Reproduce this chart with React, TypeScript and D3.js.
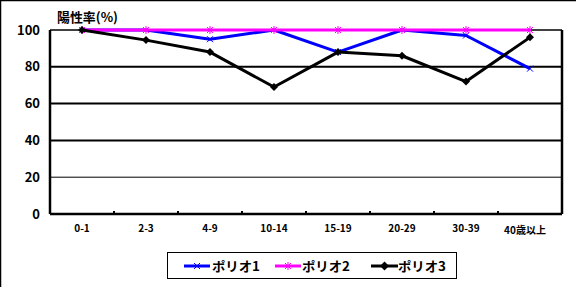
import React from "react";
import * as d3 from "d3";

const categories = ["0-1", "2-3", "4-9", "10-14", "15-19", "20-29", "30-39", "40歳以上"];
const polio1 = [100, 100, 95, 100, 88, 100, 97, 79];
const polio2 = [100, 100, 100, 100, 100, 100, 100, 100];
const polio3 = [100, 94.5, 88, 69, 88, 86, 72, 96];
const yTicks = [0, 20, 40, 60, 80, 100];
const seriesNames = ["ポリオ1", "ポリオ2", "ポリオ3"];
const yTitle = "陽性率(%)";

const W = 576, H = 287;
const L = 50, R = 562, T = 30, B = 214;
const font = "'Noto Sans CJK JP', sans-serif";

export default function App() {
  const x = d3.scaleBand<string>().domain(categories).range([L, R]);
  const y = d3.scaleLinear().domain([0, 100]).range([B, T]);
  const cx = (c: string) => (x(c) as number) + x.bandwidth() / 2;
  const line = d3.line<[number, number]>().x((d) => d[0]).y((d) => d[1]);
  const pts = (vals: number[]) => vals.map((v, i) => [cx(categories[i]), y(v)] as [number, number]);

  const series = [
    { name: seriesNames[0], vals: polio1, color: "#0000ff", marker: "x" },
    { name: seriesNames[1], vals: polio2, color: "#ff00ff", marker: "star" },
    { name: seriesNames[2], vals: polio3, color: "#000000", marker: "dot" },
  ];

  const marker = (m: string, px: number, py: number, color: string, key: string, big = false) => {
    if (m === "x") {
      return (
        <g key={key} stroke={color} strokeWidth={1}>
          <line x1={px - 3} y1={py - 3} x2={px + 3} y2={py + 3} />
          <line x1={px - 3} y1={py + 3} x2={px + 3} y2={py - 3} />
        </g>
      );
    }
    if (m === "star") {
      return (
        <g key={key} stroke={color} strokeWidth={1}>
          <line x1={px - 3} y1={py - 3} x2={px + 3} y2={py + 3} />
          <line x1={px - 3} y1={py + 3} x2={px + 3} y2={py - 3} />
          <line x1={px} y1={py - 4} x2={px} y2={py + 4} />
        </g>
      );
    }
    const r = big ? 4.5 : 4;
    return (
      <path key={key} d={`M${px},${py - r}L${px + r},${py}L${px},${py + r}L${px - r},${py}Z`} fill={color} />
    );
  };

  const legendItems = [
    { x1: 184, x2: 210, tx: 212 },
    { x1: 275, x2: 301, tx: 302 },
    { x1: 371, x2: 398, tx: 398 },
  ];

  return (
    <svg width={W} height={H} style={{ position: "absolute", left: 0, top: 0 }}>
      <rect x={0} y={0} width={W} height={H} fill="#fff" />
      <rect x={0.5} y={0.5} width={W + 10} height={H + 10} fill="none" stroke="#000" strokeWidth={1.5} />
      {yTicks.filter((t) => t > 0 && t < 100).map((t) => (
        <line key={t} x1={L} x2={R} y1={y(t)} y2={y(t)} stroke="#000" strokeWidth={t === 20 ? 1 : 2} />
      ))}
      <line x1={L} x2={R} y1={T} y2={T} stroke="#000" strokeWidth={1.5} />
      <line x1={R} x2={R} y1={T} y2={B} stroke="#000" strokeWidth={2.5} />
      <line x1={L} x2={L} y1={T} y2={B} stroke="#000" strokeWidth={2.5} />
      <line x1={L} x2={R} y1={B} y2={B} stroke="#000" strokeWidth={2.5} />
      {categories.slice(1).map((c) => (
        <line key={c} x1={x(c) as number} x2={x(c) as number} y1={B} y2={B - 3} stroke="#000" strokeWidth={2} />
      ))}
      {yTicks.map((t) => (
        <text key={t} x={40} y={y(t)} dy="0.36em" textAnchor="end" fontFamily={font} fontWeight="bold" fontSize={13}>
          {t}
        </text>
      ))}
      <text x={57} y={22} fontFamily={font} fontWeight="bold" fontSize={13} textLength={61} lengthAdjust="spacingAndGlyphs">{yTitle}</text>
      {categories.map((c, i) => (
        <text key={c} x={cx(c) - (i === 7 ? 5 : 0)} y={i === 7 ? 234 : 232} textAnchor="middle" fontFamily={font} fontWeight="bold" fontSize={10}>
          {c}
        </text>
      ))}
      {series.map((s) => (
        <g key={s.name}>
          <path d={line(pts(s.vals)) as string} fill="none" stroke={s.color} strokeWidth={3} strokeLinejoin="round" />
          {pts(s.vals).map((p, i) => marker(s.marker, p[0], p[1], s.color, s.name + i))}
        </g>
      ))}
      <rect x={167.5} y={252.5} width={289} height={26} fill="#fff" stroke="#000" strokeWidth={1} />
      {series.map((s, i) => {
        const it = legendItems[i];
        const my = 266;
        return (
          <g key={s.name}>
            <line x1={it.x1} x2={it.x2} y1={my} y2={my} stroke={s.color} strokeWidth={3} />
            {marker(s.marker, (it.x1 + it.x2) / 2, my, s.color, "lg" + i, true)}
            <text x={it.tx} y={my} dy="0.36em" fontFamily={font} fontWeight="bold" fontSize={13} textLength={48} lengthAdjust="spacingAndGlyphs">{s.name}</text>
          </g>
        );
      })}
    </svg>
  );
}
